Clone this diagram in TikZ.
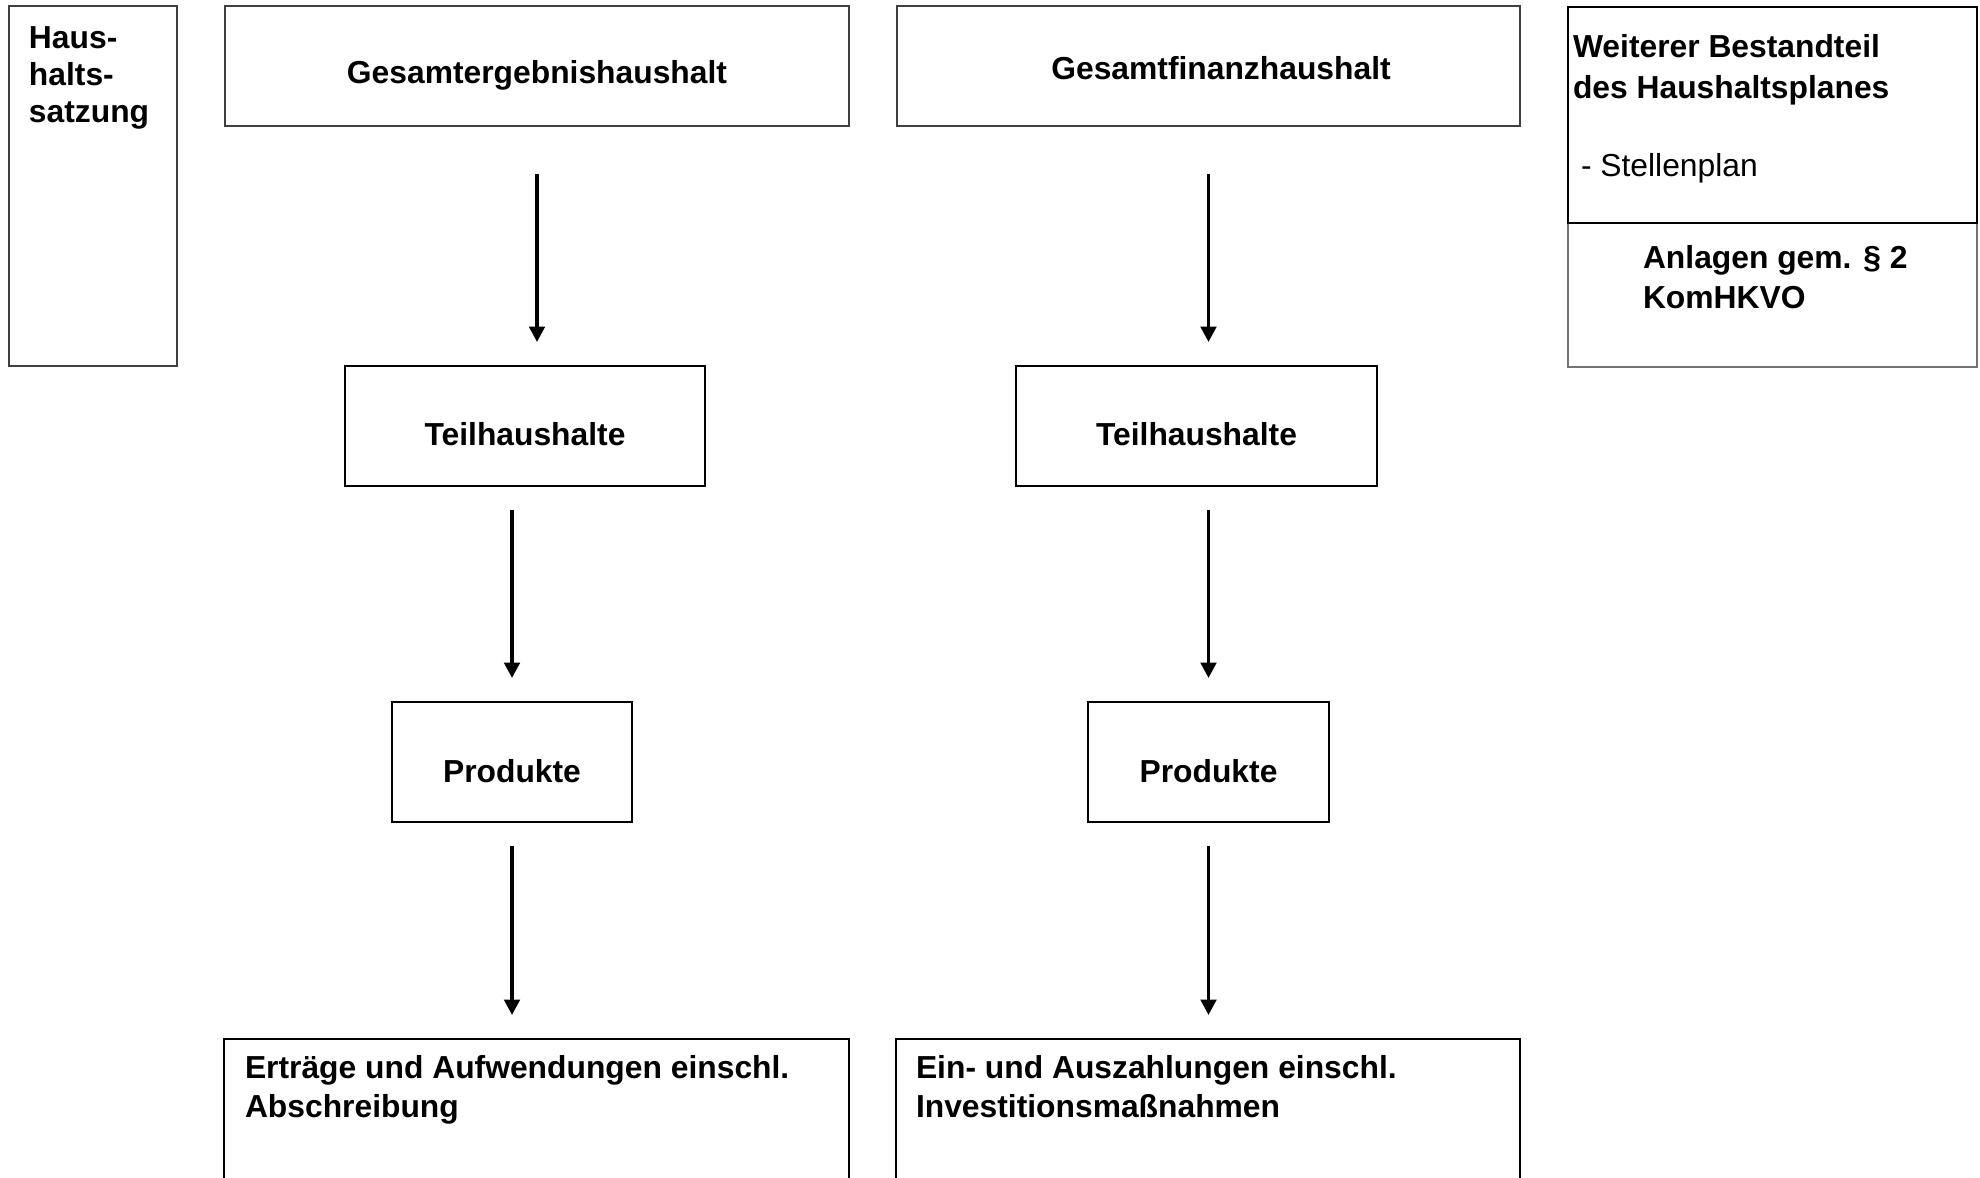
\documentclass[tikz,border=0pt]{standalone}
\usepackage{fontspec}
\setmainfont{Liberation Sans}
\usetikzlibrary{positioning,arrows.meta}

\begin{document}
\begin{tikzpicture}[
    box/.style={draw, line width=0.7pt, rectangle, inner sep=0pt, outer sep=0pt},
    thinbox/.style={box, line width=0.5pt, draw=black!75},
    title/.style={font=\fontsize{9.05}{11}\selectfont\bfseries, text depth=0pt},
    txt/.style={inner sep=0pt, outer sep=0pt, align=left, font=\fontsize{9.05}{#1}\selectfont\bfseries},
    txt/.default=11.4,
    arr/.style={-{Triangle[length=4.4pt,width=4.4pt]}, line width=1pt, shorten <=0.24cm, shorten >=0.24cm}
]
    \useasboundingbox (0,0) rectangle (19.8,-11.78);
    \clip (0,0) rectangle (19.8,-11.78);

    % Top row
    \node[thinbox, minimum width=1.68cm, minimum height=3.6cm] (haus) at (0.93,-1.86) {};
    \node[txt=10.5, below right=0.21cm and 0.2cm of haus.north west] (haustxt) {Haus-\\halts-\\satzung};

    \node[thinbox, title, text height=10.1pt, minimum width=6.24cm, minimum height=1.2cm] (gesE) at (5.37,-0.66) {Gesamtergebnishaushalt};
    \node[thinbox, title, text height=7.9pt, minimum width=6.23cm, minimum height=1.2cm] (gesF) at (12.085,-0.66) {\hspace*{0.25cm}Gesamtfinanzhaushalt};

    % Right column
    \node[box, draw=black!55, minimum width=4.09cm, minimum height=1.44cm] (anlagen) at (17.725,-2.95) {};
    \node[box, minimum width=4.09cm, minimum height=2.16cm] (weiter) at (17.725,-1.15) {};
    \node[txt=11.9, below right=0.27cm and 0.05cm of weiter.north west] (weitertxt) {Weiterer Bestandteil\\des Haushaltsplanes};
    \node[txt, font=\fontsize{9.05}{11}\selectfont, below right=1.46cm and 0.13cm of weiter.north west] (stellen) {- Stellenplan};
    \node[txt=11.4, below right=0.22cm and 0.75cm of anlagen.north west] (anlagentxt) {Anlagen gem. § 2\\KomHKVO};

    % Second level
    \node[box, title, text height=11.2pt, minimum width=3.6cm, minimum height=1.2cm] (teilE) at (5.25,-4.26) {Teilhaushalte};
    \node[box, title, text height=11.2pt, minimum width=3.61cm, minimum height=1.2cm] (teilF) at (11.965,-4.26) {Teilhaushalte};

    % Third level
    \node[box, title, text height=11.4pt, minimum width=2.4cm, minimum height=1.2cm] (prodE) at (5.12,-7.62) {Produkte};
    \node[box, title, text height=11.4pt, minimum width=2.41cm, minimum height=1.2cm] (prodF) at (12.085,-7.62) {Produkte};

    % Bottom
    \node[box, minimum width=6.25cm, minimum height=1.6cm] (ertr) at (5.365,-11.19) {};
    \node[txt=11.1, below right=0.165cm and 0.21cm of ertr.north west] (ertrtxt) {Erträge und Aufwendungen einschl.\\Abschreibung};
    \node[box, minimum width=6.24cm, minimum height=1.6cm] (einz) at (12.08,-11.19) {};
    \node[txt=11.1, below right=0.165cm and 0.2cm of einz.north west] (einztxt) {Ein- und Auszahlungen einschl.\\Investitionsmaßnahmen};

    % Arrows
    \draw[arr, shorten <=0.48cm] (gesE.south) -- (gesE.south |- teilE.north);
    \draw[arr] (prodE.north |- teilE.south) -- (prodE.north);
    \draw[arr] (prodE.south) -- (prodE.south |- ertr.north);

    \draw[arr, shorten <=0.48cm] (gesF.south) -- (gesF.south |- teilF.north);
    \draw[arr] (prodF.north |- teilF.south) -- (prodF.north);
    \draw[arr] (prodF.south) -- (prodF.south |- einz.north);
\end{tikzpicture}
\end{document}
